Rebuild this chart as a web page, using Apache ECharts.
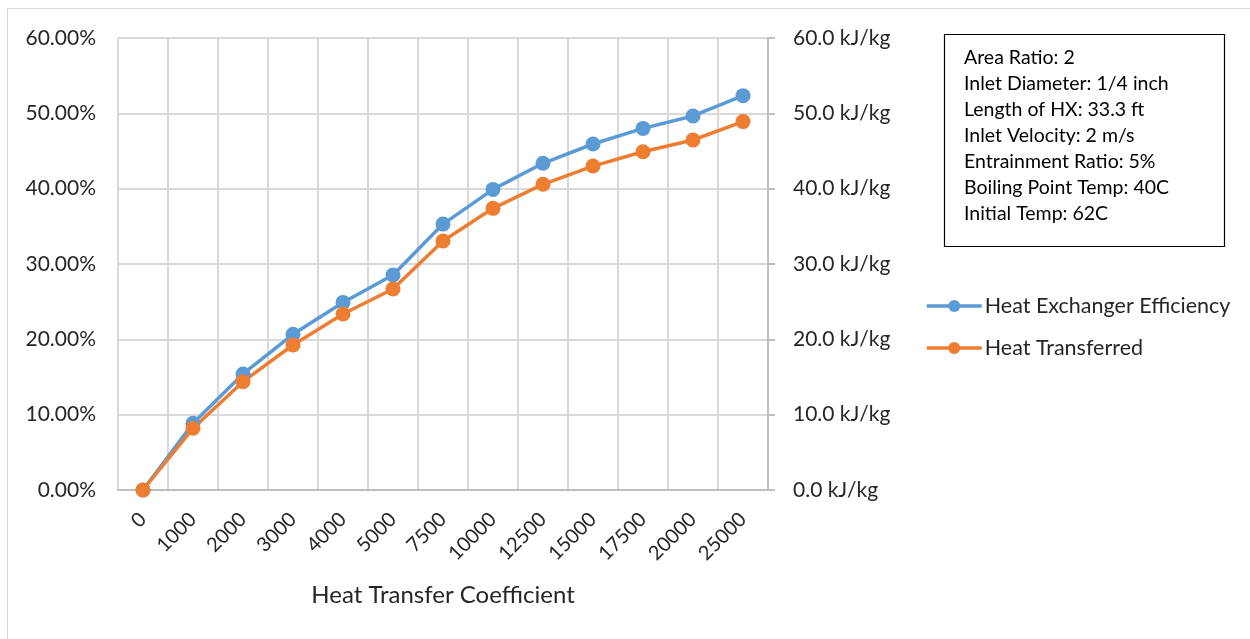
<!DOCTYPE html>
<html>
<head>
<meta charset="utf-8">
<script src="https://cdn.jsdelivr.net/npm/echarts@6/dist/echarts.min.js"></script>
<style>
  html, body { margin: 0; padding: 0; background: #fff; }
  #chart { width: 1250px; height: 639px; }
</style>
</head>
<body>
<div id="chart"></div>
<script>
// Heat transfer coefficient categories
const coefficients = ['0', '1000', '2000', '3000', '4000', '5000', '7500', '10000', '12500', '15000', '17500', '20000', '25000'];
// Heat exchanger efficiency (fraction, left axis)
const efficiency = [0, 0.0885, 0.154, 0.2067, 0.249, 0.2854, 0.353, 0.399, 0.4337, 0.4593, 0.480, 0.4965, 0.5235];
// Heat transferred (kJ/kg, right axis)
const heatTransferred = [0, 8.19, 14.38, 19.25, 23.36, 26.68, 33.05, 37.39, 40.58, 43.0, 44.9, 46.46, 48.9];
// Parameter notes shown in the box
const notes = [
  'Area Ratio: 2',
  'Inlet Diameter: 1/4 inch',
  'Length of HX: 33.3 ft',
  'Inlet Velocity: 2 m/s',
  'Entrainment Ratio: 5%',
  'Boiling Point Temp: 40C',
  'Initial Temp: 62C'
];

const FONT = 'Lato, "Open Sans", sans-serif';
const TXT = '#262626';
const chart = echarts.init(document.getElementById('chart'), null, { renderer: 'canvas' });

chart.setOption({
  backgroundColor: '#fff',
  animation: false,
  textStyle: { fontFamily: FONT },
  grid: { left: 118, right: 482, top: 38, bottom: 149, containLabel: false },
  legend: {
    orient: 'vertical',
    left: 920,
    top: 290,
    itemWidth: 55,
    itemHeight: 15,
    itemGap: 20,
    lineStyle: { width: 3.5 },
    textStyle: { fontFamily: FONT, fontSize: 21.5, color: TXT, padding: [0, 0, 0, -2] },
    data: ['Heat Exchanger Efficiency', 'Heat Transferred']
  },
  xAxis: {
    type: 'category',
    data: coefficients,
    boundaryGap: true,
    name: 'Heat Transfer Coefficient',
    nameLocation: 'middle',
    nameGap: 93,
    nameTextStyle: { fontFamily: FONT, fontSize: 24, color: TXT },
    axisLine: { lineStyle: { color: '#BFBFBF', width: 2 } },
    axisTick: { show: false },
    axisLabel: { rotate: 45, fontFamily: FONT, fontSize: 20, color: TXT, margin: 26, interval: 0 },
    splitLine: { show: true, lineStyle: { color: '#D9D9D9', width: 2 } }
  },
  yAxis: [
    {
      type: 'value',
      min: 0, max: 0.6, interval: 0.1,
      position: 'left',
      axisLine: { show: false },
      axisTick: { show: false },
      axisLabel: {
        fontFamily: FONT, fontSize: 21, color: TXT, margin: 22,
        formatter: v => (v * 100).toFixed(2) + '%'
      },
      splitLine: { show: true, lineStyle: { color: '#D9D9D9', width: 2 } }
    },
    {
      type: 'value',
      min: 0, max: 60, interval: 10,
      position: 'right',
      axisLine: { show: true, lineStyle: { color: '#BFBFBF', width: 2 } },
      axisTick: { show: true, length: 7, lineStyle: { color: '#BFBFBF', width: 2 } },
      axisLabel: {
        fontFamily: FONT, fontSize: 21, color: TXT, margin: 25,
        formatter: v => v.toFixed(1) + ' kJ/kg'
      },
      splitLine: { show: false }
    }
  ],
  series: [
    {
      name: 'Heat Exchanger Efficiency',
      type: 'line',
      yAxisIndex: 0,
      data: efficiency,
      symbol: 'circle',
      symbolSize: 15,
      color: '#5B9BD5',
      lineStyle: { width: 3.5, color: '#5B9BD5' },
      itemStyle: { color: '#5B9BD5' }
    },
    {
      name: 'Heat Transferred',
      type: 'line',
      yAxisIndex: 1,
      data: heatTransferred,
      symbol: 'circle',
      symbolSize: 15,
      color: '#ED7D31',
      lineStyle: { width: 3.5, color: '#ED7D31' },
      itemStyle: { color: '#ED7D31' }
    }
  ],
  graphic: [
    {
      type: 'rect',
      shape: { x: 7.5, y: 8.5, width: 1300, height: 700 },
      style: { fill: 'none', stroke: '#D9D9D9', lineWidth: 1 },
      silent: true
    },
    {
      type: 'rect',
      shape: { x: 944.5, y: 34.5, width: 280, height: 212 },
      style: { fill: '#fff', stroke: '#000', lineWidth: 1.2 },
      silent: true
    },
    {
      type: 'text',
      left: 964,
      top: 45,
      style: {
        text: notes.join('\n'),
        fontFamily: FONT,
        fontSize: 19.5,
        lineHeight: 26,
        fill: '#000'
      },
      silent: true
    }
  ]
});
</script>
</body>
</html>
